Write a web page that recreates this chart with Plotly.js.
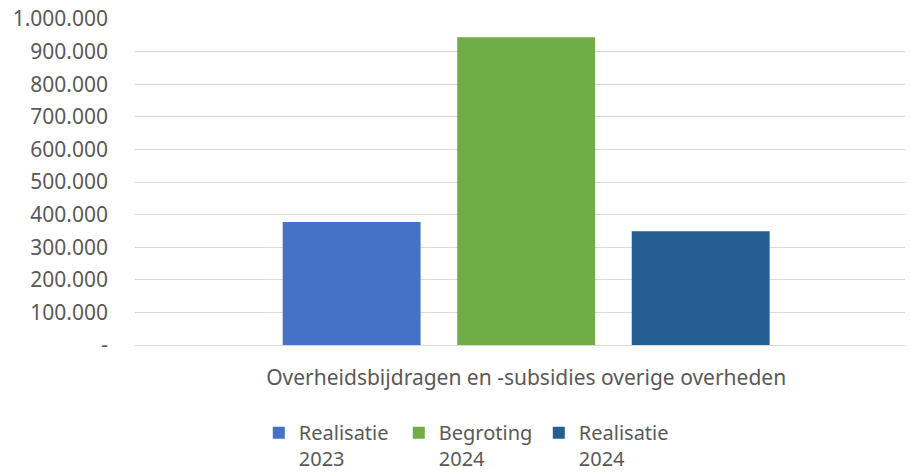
<!DOCTYPE html>
<html><head><meta charset="utf-8">
<script src="https://cdn.plot.ly/plotly-3.0.1.min.js"></script>
<style>html,body{margin:0;padding:0;background:#fff}#chart{width:911px;height:472px}</style>
</head><body><div id="chart"></div>
<script>
const categories = ["Overheidsbijdragen en -subsidies overige overheden"];
const seriesNames = ["Realisatie<br>2023", "Begroting<br>2024", "Realisatie<br>2024"];
const seriesValues = [[377000], [944000], [349000]];
const seriesColors = ["#4472C4", "#70AD47", "#255E91"];
const yTickVals = [0, 100000, 200000, 300000, 400000, 500000, 600000, 700000, 800000, 900000, 1000000];
const yTickText = ["-", "100.000", "200.000", "300.000", "400.000", "500.000", "600.000", "700.000", "800.000", "900.000", "1.000.000"];

const font = {family: "Noto Sans, Open Sans, sans-serif", size: 21, color: "#595959"};
const legFont = {family: "Noto Sans, Open Sans, sans-serif", size: 20, color: "#595959"};
const traces = seriesNames.map((n, i) => ({
  type: "bar", name: n, x: categories, y: seriesValues[i],
  marker: {color: seriesColors[i]}, hoverinfo: "none"
}));
const layout = {
  width: 911, height: 472,
  margin: {l: 135, r: 6, t: 19, b: 127, autoexpand: false},
  paper_bgcolor: "#fff", plot_bgcolor: "#fff",
  font: font,
  barmode: "group", bargap: 0.32, bargroupgap: 0.21,
  showlegend: true,
  legend: {orientation: "h", x: 0.4335, xanchor: "center", y: -0.209, yanchor: "top",
           font: legFont, valign: "top", entrywidth: 95, itemwidth: 30},
  xaxis: {type: "category", range: [-0.508, 0.492], showgrid: false, zeroline: false,
          showline: false, ticks: "", tickfont: font, ticklabelstandoff: 18},
  yaxis: {range: [0, 1000000], tickvals: yTickVals, ticktext: yTickText,
          showgrid: true, gridcolor: "#D9D9D9", gridwidth: 1, zeroline: true,
          zerolinecolor: "#D9D9D9", zerolinewidth: 1, showline: false, ticks: "",
          tickfont: font, ticklabelstandoff: 26}
};
Plotly.newPlot("chart", traces, layout, {staticPlot: true, displayModeBar: false});
</script></body></html>
